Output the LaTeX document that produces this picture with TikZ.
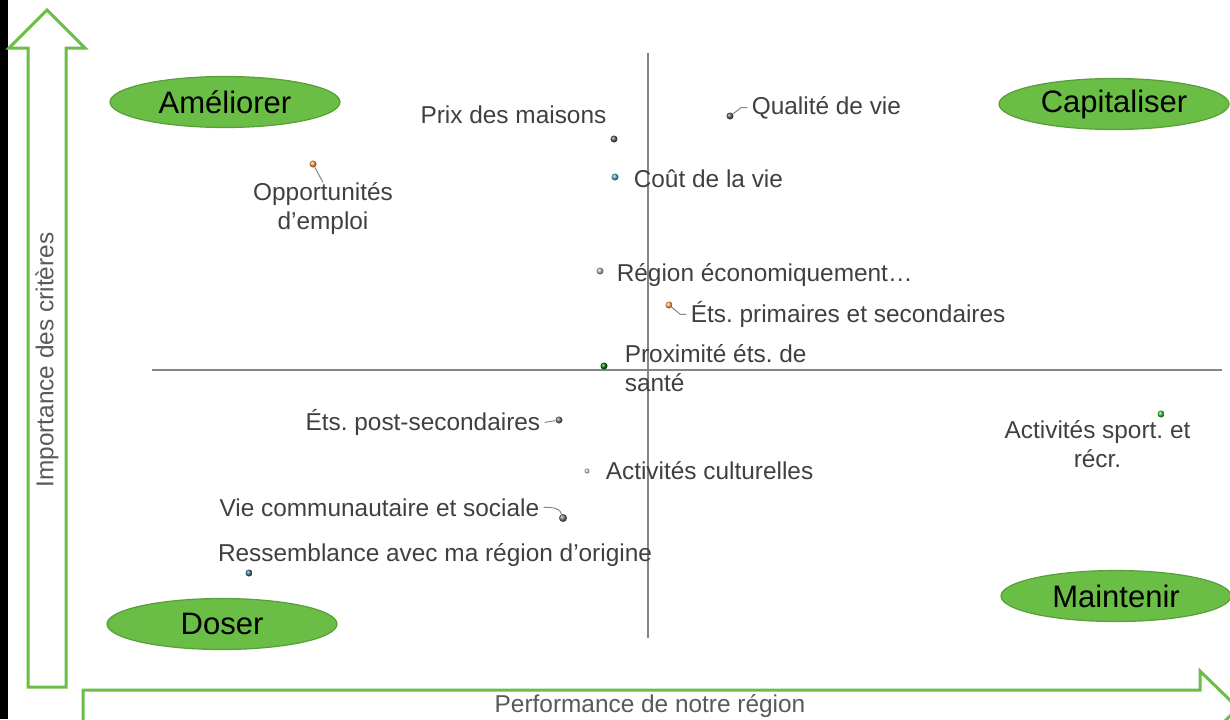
\documentclass[tikz,border=0pt]{standalone}
\usepackage{fontspec}
\setmainfont{Liberation Sans}
\usetikzlibrary{positioning, shapes.geometric}
\frenchspacing

\begin{document}
\begin{tikzpicture}[x=0.5pt, y=-0.5pt]
    \definecolor{quad-green}{RGB}{106,189,69}
    \definecolor{quad-edge}{RGB}{88,158,58}
    \definecolor{label-grey}{RGB}{64,64,64}
    \definecolor{axis-grey}{RGB}{89,89,89}
    \definecolor{cross-grey}{RGB}{134,134,134}
    \definecolor{dot-cyan}{RGB}{75,172,198}
    \definecolor{dot-teal}{RGB}{55,115,145}
    \tikzset{
        quadrant/.style={ellipse, draw=quad-edge, fill=quad-green, line width=.6pt,
            minimum width=115pt, minimum height=25.5pt, inner sep=0pt,
            font=\fontsize{15.5pt}{18pt}\selectfont},
        pointdot/.style={circle, inner sep=0pt, minimum size=3.5pt, ball color=#1},
        pointlabel/.style={inner sep=2pt, text=label-grey,
            font=\fontsize{12.2pt}{14.5pt}\selectfont},
        leader/.style={draw=cross-grey, line width=.5pt}
    }
    \useasboundingbox (0,0) rectangle (1230,719);
    \clip (0,0) rectangle (1230,719);

    % Black bar on the left edge
    \fill[black] (0,0) rectangle (8,719);

    % AXES (block arrows)
    \draw[quad-green, line width=1.5pt, fill=white]
        (28,687) -- (28,48) -- (9,48) -- (47,10) -- (85,48) -- (66,48) -- (66,687) -- cycle;
    \draw[quad-green, line width=1.5pt, fill=white]
        (83,690) -- (1200,690) -- (1200,671) -- (1238,708) -- (1200,746) -- (1200,727) -- (83,727) -- cycle;
    \node[rotate=90, text=axis-grey, font=\fontsize{12.2pt}{14pt}\selectfont]
        (ytitle) at (47,360) {Importance des critères};
    \node[text=axis-grey, font=\fontsize{12.2pt}{14pt}\selectfont]
        (xtitle) at (650,706) {Performance de notre région};

    % Cross hair
    \draw[cross-grey, line width=.6pt] (648,53) -- (648,638);
    \draw[cross-grey, line width=.6pt] (152,370) -- (1222,370);

    % QUADRANTS
    \node[quadrant] (q-ameliorer)   at (225,102)  {Améliorer};
    \node[quadrant] (q-capitaliser) at (1114,104) {Capitaliser};
    \node[quadrant] (q-doser)       at (222,624)  {Doser};
    \node[quadrant] (q-maintenir)   at (1116,596) {Maintenir};

    % POINTS
    \node[pointdot=black!65]         (d-prix)       at (614,139) {};
    \node[pointdot=black!65]         (d-qualite)    at (730,116) {};
    \node[pointdot=dot-cyan]         (d-cout)       at (615,177) {};
    \node[pointdot=orange!80]        (d-emploi)     at (313,164) {};
    \node[pointdot=black!30]         (d-region)     at (600,271) {};
    \node[pointdot=orange!70]        (d-primaires)  at (669,305) {};
    \node[pointdot=green!45!black]   (d-sante)      at (604,366) {};
    \node[pointdot=black!55]         (d-postsec)    at (559,420) {};
    \node[pointdot=black!20, minimum size=2.5pt] (d-culture) at (587,471) {};
    \node[pointdot=black!55, minimum size=4pt]   (d-communaute) at (563,518) {};
    \node[pointdot=dot-teal]         (d-origine)    at (249,573) {};
    \node[pointdot=green!70!black!80](d-sport)      at (1161,414) {};

    % LABELS
    \begin{scope}[every node/.append style={pointlabel}]
        \node [above left = 4.25pt and .25pt of d-prix] (l-prix) {Prix des maisons};
        \node [right = 6.75pt of d-qualite, yshift=4.25pt] (l-qualite) {Qualité de vie};
        \node [right = 5.25pt of d-cout, yshift=-0.7pt] (l-cout) {Coût de la vie};
        \node [below = 5.25pt of d-emploi, xshift=5pt, align=center] (l-emploi)
            {Opportunités\\d’emploi};
        \node [right = 4.25pt of d-region, yshift=-2.2pt] (l-region)
            {Région économiquement…};
        \node [right = 6.75pt of d-primaires, yshift=-4.7pt] (l-primaires)
            {Éts. primaires et secondaires};
        \node [right = 6.25pt of d-sante, yshift=-1pt, align=left] (l-sante)
            {Proximité éts. de\\santé};
        \node [left = 5.25pt of d-postsec, yshift=-1.2pt] (l-postsec)
            {Éts. post-secondaires};
        \node [right = 5.75pt of d-culture, yshift=0.3pt] (l-culture)
            {Activités culturelles};
        \node [left = 7.5pt of d-communaute, yshift=5.3pt] (l-communaute)
            {Vie communautaire et sociale};
        \node [above = -1pt of d-origine, xshift=93pt] (l-origine)
            {Ressemblance avec ma région d’origine};
        \node [below = -1pt of d-sport, xshift=-31.75pt, align=center] (l-sport)
            {Activités sport. et\\récr.};
    \end{scope}

    % Leader lines
    \draw[leader] (d-qualite) -- ([xshift=-3pt]l-qualite.west) -- (l-qualite.west);
    \draw[leader] (d-emploi) -- ([yshift=-2pt]l-emploi.north);
    \draw[leader] (d-primaires) -- ([xshift=-3pt]l-primaires.west) -- (l-primaires.west);
    \draw[leader] (l-postsec.east) -- (d-postsec);
    \draw[leader] (l-communaute.east) to[out=0, in=110] (d-communaute);
\end{tikzpicture}
\end{document}
